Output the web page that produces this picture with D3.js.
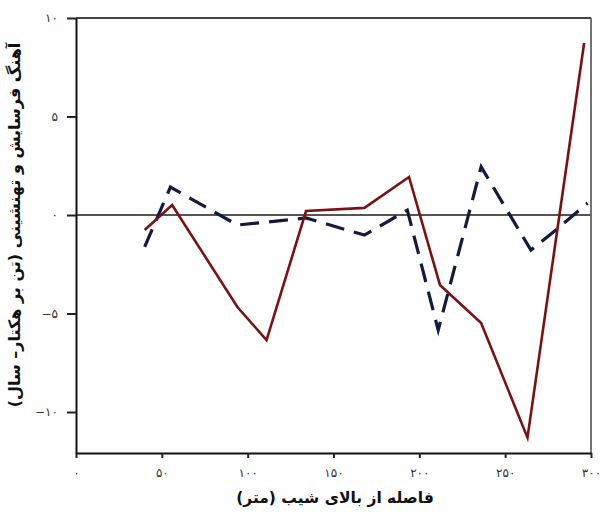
<!DOCTYPE html>
<html><head><meta charset="utf-8">
<script src="https://cdn.jsdelivr.net/npm/d3@7"></script>
<style>
html,body{margin:0;padding:0;background:#fff;}
svg{display:block;}
.tick text{font-family:"DejaVu Sans",sans-serif;font-size:12px;fill:#333;}
</style></head>
<body>
<svg id="chart" width="600" height="518"></svg>
<script>
// Distance from top of slope (m) and erosion/deposition rate (t/ha-yr)
const redX  = [40, 56, 94, 111, 134, 168, 194, 212, 236, 263, 296];
const redY  = [-0.76, 0.51, -4.67, -6.35, 0.2, 0.36, 1.93, -3.55, -5.48, -11.3, 8.73];
const blueX = [40, 55, 94, 134, 168, 193, 211, 236, 265, 281, 298];
const blueY = [-1.62, 1.42, -0.51, -0.15, -1.02, 0.25, -5.84, 2.44, -1.78, -0.66, 0.61];
const xTicks = [0, 50, 100, 150, 200, 250, 300];
const yTicks = [-10, -5, 0, 5, 10];
const xTitle = "فاصله از بالای شیب (متر)";
const yTitle = "آهنگ فرسایش و تهنشینی (تن بر هکتار– سال)";

const fa = n => {
  const d = "۰۱۲۳۴۵۶۷۸۹";
  const s = String(Math.abs(n)).replace(/[0-9]/g, c => d[+c]);
  return (n < 0 ? "−" : "") + s;
};

const svg = d3.select("#chart");
const L = 76, T = 18, R = 591, B = 453;
const x = d3.scaleLinear().domain([0, 300]).range([L, R]);
const y = d3.scaleLinear().domain([-12.08, 10]).range([B, T]);

// frame top & right
svg.append("line").attr("x1", L).attr("x2", R).attr("y1", T).attr("y2", T)
  .attr("stroke", "#444").attr("stroke-width", 2);
svg.append("line").attr("x1", R).attr("x2", R).attr("y1", T).attr("y2", B)
  .attr("stroke", "#444").attr("stroke-width", 1.5);

// zero line
svg.append("line").attr("x1", L).attr("x2", R).attr("y1", y(0)).attr("y2", y(0))
  .attr("stroke", "#555").attr("stroke-width", 2);

// axes
const xAxis = svg.append("g").attr("transform", `translate(0,${B})`)
  .call(d3.axisBottom(x).tickValues(xTicks).tickFormat(fa).tickSize(5).tickPadding(10).tickSizeOuter(0));
const yAxis = svg.append("g").attr("transform", `translate(${L},0)`)
  .call(d3.axisLeft(y).tickValues(yTicks).tickFormat(fa).tickSize(9).tickPadding(9).tickSizeOuter(0));
[xAxis, yAxis].forEach(a => {
  a.select(".domain").attr("stroke", "#111").attr("stroke-width", 2);
  a.selectAll(".tick line").attr("stroke", "#222").attr("stroke-width", 2);
});

const line = d3.line().x(d => x(d[0])).y(d => y(d[1]));

svg.append("path").datum(blueX.map((v, i) => [v, blueY[i]]))
  .attr("d", line).attr("fill", "none").attr("stroke", "#141a3e")
  .attr("stroke-width", 3.2).attr("stroke-dasharray", "19,10").attr("stroke-linejoin", "miter");

svg.append("path").datum(redX.map((v, i) => [v, redY[i]]))
  .attr("d", line).attr("fill", "none").attr("stroke", "#7a1214")
  .attr("stroke-width", 2.6).attr("stroke-linejoin", "miter");

// titles
svg.append("text").attr("x", 335).attr("y", 503).attr("text-anchor", "middle")
  .attr("direction", "rtl")
  .style("font-family", "DejaVu Sans, sans-serif").style("font-weight", "bold").style("font-size", "15.5px")
  .attr("fill", "#111").text(xTitle);
svg.append("text").attr("transform", "translate(20,225) rotate(-90)").attr("text-anchor", "middle")
  .attr("direction", "rtl")
  .style("font-family", "DejaVu Sans, sans-serif").style("font-weight", "bold").style("font-size", "16px")
  .attr("fill", "#111").text(yTitle);
</script>
</body></html>
